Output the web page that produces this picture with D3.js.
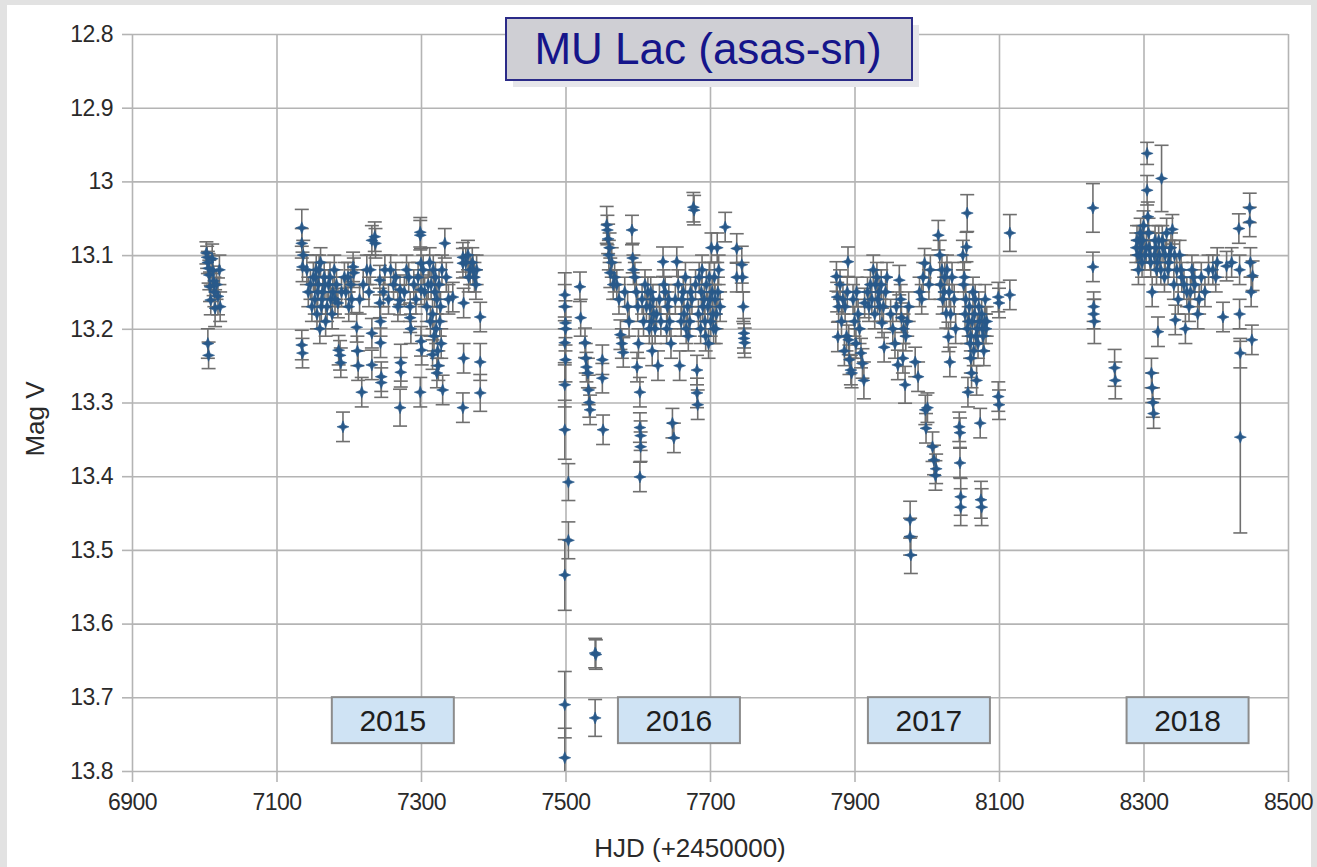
<!DOCTYPE html>
<html><head><meta charset="utf-8">
<script src="https://cdn.jsdelivr.net/npm/d3@7"></script>
<style>
html,body{margin:0;padding:0;background:#e2e2e2;}
svg{display:block;font-family:"Liberation Sans",Arial,sans-serif;}
</style></head><body>
<svg id="chart" width="1317" height="867"></svg>
<script>
// ---- DATA: [HJD-2450000, Mag V, error] ----
const season2014 = [[7003,13.097,.015],[7004,13.103,.015],[7005,13.110,.015],[7006,13.118,.02],[7007,13.127,.02],[7008,13.143,.02],[7005,13.220,.02],[7006,13.236,.018],[7009,13.161,.02],[7011,13.105,.02],[7012,13.121,.02],[7013,13.135,.02],[7014,13.150,.02],[7015,13.172,.025],[7017,13.14,.02],[7019,13.156,.025],[7021,13.12,.02],[7022,13.17,.02]];
const season2015 = [[7135,13.063,.025],[7135,13.084,.02],[7136,13.116,.02],[7135,13.222,.02],[7136,13.233,.02],[7137,13.10,.02],
[7151,13.13,.02],[7153,13.16,.02],[7155,13.12,.02],[7156,13.18,.02],[7158,13.14,.02],[7160,13.20,.02],[7161,13.11,.02],[7162,13.17,.02],[7164,13.15,.02],[7166,13.13,.02],[7168,13.19,.02],
[7172,13.14,.02],[7175,13.16,.02],[7178,13.15,.02],[7180,13.12,.02],
[7183,13.14,.02],[7185,13.165,.02],[7186,13.229,.02],[7188,13.236,.02],[7189,13.246,.02],[7190,13.15,.02],[7192,13.333,.02],[7194,13.13,.02],
[7206,13.116,.02],[7207,13.124,.02],[7200,13.17,.02],[7203,13.14,.02],
[7211,13.198,.02],[7212,13.23,.02],[7213,13.25,.02],[7218,13.286,.02],[7215,13.16,.02],
[7232,13.08,.02],[7232,13.206,.02],[7232,13.249,.02],[7230,13.12,.02],[7236,13.075,.02],[7237,13.084,.02],
[7243,13.134,.02],[7243,13.165,.02],[7244,13.19,.02],[7244,13.219,.02],[7245,13.265,.02],[7245,13.273,.02],[7248,13.15,.02],
[7258,13.12,.02],[7262,13.14,.02],
[7271,13.147,.02],[7271,13.161,.02],[7272,13.246,.025],[7272,13.259,.02],[7271,13.307,.025],[7268,13.17,.02],
[7285,13.17,.02],[7285,13.185,.02],[7286,13.20,.02],[7283,13.13,.02],
[7299,13.069,.02],[7299,13.073,.02],[7300,13.111,.02],[7300,13.147,.02],[7300,13.217,.02],[7301,13.229,.02],[7299,13.286,.02],
[7312,13.11,.02],[7314,13.14,.02],[7316,13.18,.02],[7318,13.21,.02],[7320,13.13,.02],[7322,13.16,.02],[7324,13.25,.02],[7326,13.19,.02],[7328,13.22,.02],[7330,13.283,.02],[7316,13.235,.02],[7322,13.26,.02],
[7333,13.084,.02],[7344,13.157,.02],
[7358,13.103,.02],[7358,13.111,.02],[7359,13.165,.02],[7359,13.24,.02],[7358,13.307,.02],
[7365,13.10,.02],[7368,13.12,.02],[7371,13.11,.02],[7374,13.13,.02],[7377,13.12,.02],
[7382,13.184,.02],[7382,13.245,.025],[7382,13.287,.025],
[7142,13.12,.02],[7144,13.15,.02],[7147,13.14,.02],[7149,13.17,.02],[7154,13.13,.02],[7157,13.15,.02],[7159,13.12,.02],[7163,13.16,.02],[7167,13.14,.02],[7170,13.17,.02],[7174,13.13,.02],[7177,13.18,.02],[7181,13.16,.02],[7196,13.15,.02],[7199,13.13,.02],[7204,13.16,.02],[7220,13.14,.02],[7225,13.12,.02],[7228,13.15,.02],[7250,13.12,.02],[7255,13.16,.02],[7265,13.13,.02],[7277,13.15,.02],[7280,13.12,.02],[7290,13.14,.02],[7293,13.16,.02],[7296,13.13,.02],[7303,13.12,.02],[7305,13.15,.02],[7308,13.17,.02],[7310,13.14,.02],[7313,13.19,.02],[7317,13.12,.02],[7319,13.15,.02],[7321,13.2,.02],[7323,13.23,.02],[7325,13.14,.02],[7327,13.17,.02],[7329,13.12,.02],[7335,13.13,.02],[7338,13.16,.02],[7362,13.11,.02],[7366,13.13,.02],[7372,13.12,.02],[7376,13.14,.02]];
const season2016 = [[7499,13.154,.03],[7499,13.17,.03],[7500,13.192,.03],[7500,13.20,.03],[7499,13.219,.03],[7500,13.242,.03],[7499,13.276,.03],[7499,13.337,.04],[7504,13.408,.025],[7504,13.487,.025],[7499,13.534,.048],[7499,13.71,.045],[7499,13.782,.04],
[7520,13.143,.02],[7521,13.185,.025],
[7527,13.219,.02],[7529,13.252,.02],[7531,13.26,.02],[7532,13.283,.02],[7533,13.30,.02],[7534,13.31,.02],[7528,13.24,.02],
[7541,13.64,.02],[7542,13.642,.02],[7541,13.728,.025],
[7551,13.242,.02],[7551,13.267,.02],[7552,13.337,.02],
[7557,13.059,.025],[7558,13.066,.02],[7559,13.078,.02],[7561,13.09,.02],[7562,13.124,.02],[7560,13.10,.02],
[7571,13.14,.02],[7574,13.16,.02],[7576,13.208,.02],[7578,13.22,.02],[7580,13.232,.02],[7582,13.15,.02],
[7592,13.066,.02],[7593,13.104,.02],[7594,13.12,.02],
[7596,13.13,.02],[7598,13.15,.02],[7600,13.17,.02],[7601,13.22,.02],[7599,13.252,.02],
[7603,13.286,.02],[7603,13.334,.02],[7604,13.345,.02],[7604,13.36,.02],[7603,13.401,.02],
[7614,13.15,.02],[7617,13.17,.02],[7619,13.19,.02],[7621,13.16,.02],[7624,13.20,.02],[7626,13.18,.02],[7628,13.25,.02],[7620,13.23,.02],
[7635,13.109,.02],[7638,13.15,.02],[7641,13.17,.02],[7644,13.19,.02],[7646,13.22,.02],[7648,13.328,.02],[7650,13.348,.02],[7652,13.16,.02],[7654,13.109,.02],
[7658,13.25,.02],[7661,13.16,.02],[7664,13.18,.02],[7667,13.20,.02],[7670,13.21,.02],[7673,13.15,.02],
[7677,13.035,.02],[7678,13.039,.02],
[7682,13.256,.02],[7682,13.287,.02],[7683,13.303,.02],
[7685,13.13,.02],[7688,13.15,.02],[7690,13.17,.02],[7693,13.19,.02],[7695,13.14,.02],[7698,13.22,.02],[7700,13.16,.02],[7702,13.09,.02],[7704,13.18,.02],[7706,13.13,.02],[7708,13.20,.02],[7710,13.09,.02],[7711,13.15,.02],
[7721,13.062,.02],
[7737,13.091,.02],[7737,13.13,.02],
[7744,13.113,.025],[7745,13.13,.02],[7746,13.17,.02],[7747,13.206,.02],[7747,13.213,.02],[7748,13.219,.02],
[7606,13.16,.02],[7608,13.19,.02],[7610,13.14,.02],[7612,13.17,.02],[7616,13.2,.02],[7618,13.15,.02],[7622,13.18,.02],[7630,13.16,.02],[7632,13.19,.02],[7636,13.14,.02],[7640,13.2,.02],[7643,13.16,.02],[7656,13.14,.02],[7660,13.19,.02],[7663,13.15,.02],[7666,13.13,.02],[7669,13.17,.02],[7672,13.19,.02],[7675,13.16,.02],[7680,13.14,.02],[7684,13.18,.02],[7687,13.2,.02],[7689,13.12,.02],[7692,13.16,.02],[7694,13.21,.02],[7697,13.17,.02],[7699,13.13,.02],[7701,13.19,.02],[7703,13.15,.02],[7705,13.2,.02],[7707,13.16,.02],[7709,13.18,.02],[7712,13.12,.02],[7714,13.17,.02],[7564,13.11,.02],[7566,13.14,.02],[7568,13.13,.02],[7586,13.17,.02],[7588,13.19,.02]];
const season2017 = [[7875,13.129,.02],[7876,13.157,.02],[7877,13.211,.02],[7880,13.14,.02],
[7887,13.17,.02],[7889,13.21,.02],[7891,13.109,.02],[7892,13.215,.02],[7893,13.242,.02],[7895,13.256,.02],[7896,13.26,.02],[7890,13.15,.02],
[7903,13.15,.02],[7905,13.18,.02],[7907,13.20,.02],[7909,13.233,.02],[7911,13.247,.02],[7913,13.27,.025],[7914,13.165,.02],
[7926,13.12,.02],[7929,13.14,.02],[7932,13.16,.02],[7935,13.17,.02],[7938,13.192,.02],[7941,13.225,.02],[7943,13.15,.02],[7945,13.13,.02],
[7958,13.17,.02],[7960,13.249,.02],[7962,13.134,.02],[7965,13.185,.02],[7968,13.20,.02],[7970,13.276,.025],[7973,13.19,.02],[7975,13.17,.02],
[7977,13.459,.025],[7977,13.482,.025],[7978,13.507,.025],
[7984,13.245,.02],[7988,13.265,.02],
[7993,13.16,.02],[7997,13.111,.02],[7998,13.31,.02],[7999,13.335,.02],[8001,13.307,.02],
[8008,13.36,.02],[8010,13.378,.02],[8012,13.399,.02],[8013,13.39,.02],
[8016,13.073,.02],[8018,13.10,.02],[8021,13.12,.02],[8024,13.15,.02],[8027,13.179,.02],[8030,13.211,.02],[8032,13.245,.02],[8035,13.13,.02],
[8045,13.333,.02],[8046,13.341,.02],[8046,13.382,.02],[8047,13.428,.025],[8047,13.442,.025],
[8050,13.10,.02],[8052,13.13,.02],[8054,13.16,.02],[8056,13.043,.025],[8055,13.089,.02],[8058,13.19,.02],[8060,13.22,.02],[8061,13.24,.02],[8062,13.26,.02],[8057,13.286,.02],[8064,13.15,.02],[8066,13.18,.02],[8068,13.21,.02],[8069,13.27,.02],
[8072,13.17,.02],[8074,13.328,.02],[8075,13.432,.025],[8076,13.442,.025],[8077,13.20,.02],[8079,13.23,.02],[8081,13.16,.02],[8083,13.19,.02],
[8099,13.157,.02],[8100,13.165,.02],[8099,13.292,.02],[8100,13.303,.02],
[8115,13.07,.025],[8115,13.154,.02],
[7878,13.17,.02],[7882,13.19,.02],[7884,13.16,.02],[7886,13.23,.02],[7898,13.16,.02],[7900,13.19,.02],[7902,13.22,.02],[7918,13.15,.02],[7920,13.17,.02],[7922,13.14,.02],[7924,13.16,.02],[7928,13.18,.02],[7931,13.13,.02],[7934,13.15,.02],[7937,13.14,.02],[7940,13.17,.02],[7950,13.18,.02],[7953,13.2,.02],[7956,13.22,.02],[7964,13.16,.02],[7967,13.24,.02],[7971,13.21,.02],[7990,13.15,.02],[7995,13.13,.02],[8003,13.14,.02],[8005,13.12,.02],[8019,13.14,.02],[8022,13.16,.02],[8025,13.13,.02],[8028,13.12,.02],[8031,13.15,.02],[8033,13.18,.02],[8038,13.16,.02],[8040,13.2,.02],[8051,13.14,.02],[8053,13.18,.02],[8056,13.2,.02],[8059,13.17,.02],[8061,13.21,.02],[8063,13.19,.02],[8065,13.23,.02],[8067,13.16,.02],[8070,13.2,.02],[8071,13.22,.02],[8073,13.19,.02],[8076,13.18,.02],[8078,13.21,.02],[8080,13.19,.02],[8082,13.2,.02]];
const season2018 = [[8230,13.036,.033],[8230,13.116,.02],[8231,13.17,.02],[8231,13.18,.02],[8232,13.19,.03],
[8260,13.253,.025],[8261,13.27,.025],
[8290,13.09,.02],[8292,13.10,.02],[8294,13.08,.02],[8296,13.07,.02],[8298,13.11,.02],[8300,13.06,.02],
[8305,12.962,.015],[8305,13.012,.02],[8306,13.048,.02],
[8308,13.09,.02],[8310,13.11,.02],[8311,13.26,.02],[8312,13.28,.02],[8313,13.30,.02],[8314,13.315,.02],[8312,13.15,.02],[8316,13.08,.02],[8318,13.12,.02],
[8320,13.204,.02],[8322,13.10,.02],[8325,12.996,.045],[8327,13.09,.02],[8329,13.13,.02],[8332,13.07,.02],[8335,13.11,.02],[8338,13.09,.02],
[8340,13.065,.02],[8342,13.14,.02],[8344,13.188,.02],[8346,13.12,.02],[8348,13.16,.02],[8350,13.10,.02],[8353,13.13,.02],
[8358,13.2,.02],[8360,13.15,.02],[8363,13.17,.02],[8367,13.12,.02],[8371,13.14,.02],[8375,13.18,.02],[8380,13.13,.02],[8385,13.15,.02],
[8396,13.12,.02],[8402,13.11,.02],[8410,13.184,.02],[8415,13.115,.02],[8422,13.11,.02],
[8432,13.064,.02],[8433,13.12,.02],[8433,13.18,.02],[8434,13.233,.02],[8434,13.347,.13],
[8447,13.036,.02],[8447,13.055,.02],[8448,13.11,.02],[8449,13.15,.02],[8450,13.215,.02],[8451,13.128,.02],
[8291,13.08,.02],[8293,13.12,.02],[8295,13.1,.02],[8297,13.09,.02],[8299,13.08,.02],[8302,13.1,.02],[8304,13.09,.02],[8307,13.07,.02],[8309,13.1,.02],[8315,13.1,.02],[8317,13.09,.02],[8319,13.11,.02],[8321,13.08,.02],[8324,13.12,.02],[8326,13.08,.02],[8330,13.1,.02],[8334,13.12,.02],[8336,13.1,.02],[8343,13.1,.02],[8352,13.12,.02],[8356,13.14,.02],[8365,13.15,.02],[8369,13.13,.02],[8377,13.16,.02],[8390,13.12,.02],[8400,13.13,.02]];

const xTicks = [6900,7100,7300,7500,7700,7900,8100,8300,8500];
const yTicks = [12.8,12.9,13.0,13.1,13.2,13.3,13.4,13.5,13.6,13.7,13.8];
const yTickLabels = ["12.8","12.9","13","13.1","13.2","13.3","13.4","13.5","13.6","13.7","13.8"];
const yearLabels = ["2015","2016","2017","2018"];
const yearLabelHJD = [7261,7657,8003,8361];
const titleText = "MU Lac (asas-sn)";
const xTitle = "HJD (+2450000)";
const yTitle = "Mag V";

// ---- LAYOUT ----
const svg = d3.select("#chart");
const L = 132, R = 1288, T = 34, B = 771;
const x = d3.scaleLinear().domain([6900,8500]).range([L,R]);
const y = d3.scaleLinear().domain([12.8,13.8]).range([T,B]);

svg.append("rect").attr("x",7).attr("y",5).attr("width",1304).attr("height",870).attr("fill","#ffffff");

const gridColor = "#b4b4b4";
const gx = svg.append("g").attr("transform",`translate(0,${B})`)
  .call(d3.axisBottom(x).tickValues(xTicks).tickSize(-(B-T)).tickFormat(""));
const gy = svg.append("g").attr("transform",`translate(${L},0)`)
  .call(d3.axisLeft(y).tickValues(yTicks).tickSize(-(R-L)).tickFormat(""));
[gx,gy].forEach(g=>{g.select(".domain").remove(); g.selectAll("line").attr("stroke",gridColor).attr("stroke-width",1.6);});

const ax = svg.append("g").attr("transform",`translate(0,${B})`)
  .call(d3.axisBottom(x).tickValues(xTicks).tickSize(11).tickPadding(12).tickFormat(d3.format("d")));
const ay = svg.append("g").attr("transform",`translate(${L},0)`)
  .call(d3.axisLeft(y).tickValues(yTicks).tickSize(10).tickPadding(9).tickFormat((d,i)=>yTickLabels[i]));
[ax,ay].forEach(g=>{
  g.select(".domain").remove();
  g.selectAll("line").attr("stroke",gridColor).attr("stroke-width",1.6);
  g.selectAll("text").attr("fill","#2a2a2a").style("font-size","23px").style("letter-spacing","-0.5px");
});
ax.selectAll("text").attr("dy","0.71em");

svg.append("text").attr("x",690).attr("y",857).attr("text-anchor","middle")
  .style("font-size","26px").attr("fill","#2a2a2a").text(xTitle);
svg.append("text").attr("transform","translate(44,419) rotate(-90)").attr("text-anchor","middle")
  .style("font-size","26px").attr("fill","#2a2a2a").text(yTitle);

const all = [].concat(season2014,season2015,season2016,season2017,season2018)
  .map(d=>({hjd:d[0],mag:d[1],err:d[2]}));
const plot = svg.append("g");
const capW = 7;
const eb = plot.append("g").attr("stroke","#6f6f6f").attr("stroke-width",1.6).attr("fill","none");
all.forEach(d=>{
  const cx = x(d.hjd), y0 = y(d.mag-d.err), y1 = y(Math.min(d.mag+d.err,13.8));
  eb.append("line").attr("x1",cx).attr("x2",cx).attr("y1",y0).attr("y2",y1);
  eb.append("line").attr("x1",cx-capW).attr("x2",cx+capW).attr("y1",y0).attr("y2",y0);
  if (d.mag+d.err <= 13.8) eb.append("line").attr("x1",cx-capW).attr("x2",cx+capW).attr("y1",y1).attr("y2",y1);
});
const star4 = {draw(ctx,size){const r=Math.sqrt(size)/2, i=r*0.28;
  ctx.moveTo(0,-r);ctx.lineTo(i,-i);ctx.lineTo(r,0);ctx.lineTo(i,i);ctx.lineTo(0,r);ctx.lineTo(-i,i);ctx.lineTo(-r,0);ctx.lineTo(-i,-i);ctx.closePath();}};
const sym = d3.symbol().type(star4).size(144);
plot.append("g").selectAll("path").data(all).join("path")
  .attr("d",sym).attr("transform",d=>`translate(${x(d.hjd)},${y(d.mag)})`)
  .attr("fill","#28598a").attr("stroke","#28598a").attr("stroke-width",0.6);

yearLabels.forEach((t,i)=>{
  const cx = x(yearLabelHJD[i]), cy = y(13.731);
  const w = 122, h = 46;
  svg.append("rect").attr("x",cx-w/2).attr("y",cy-h/2).attr("width",w).attr("height",h)
    .attr("fill","#cfe3f4").attr("stroke","#8c8c8c").attr("stroke-width",2);
  svg.append("text").attr("x",cx).attr("y",cy+11).attr("text-anchor","middle")
    .style("font-size","30px").attr("fill","#1e1e1e").text(t);
});

svg.append("rect").attr("x",513).attr("y",25).attr("width",406).attr("height",62).attr("fill","#e6e6ea");
svg.append("rect").attr("x",506).attr("y",18).attr("width",406).attr("height",62)
  .attr("fill","#cfcfd4").attr("stroke","#2b2b88").attr("stroke-width",2);
svg.append("text").attr("x",708).attr("y",64).attr("text-anchor","middle")
  .style("font-size","44px").attr("fill","#15158a").text(titleText);
</script>
</body></html>
